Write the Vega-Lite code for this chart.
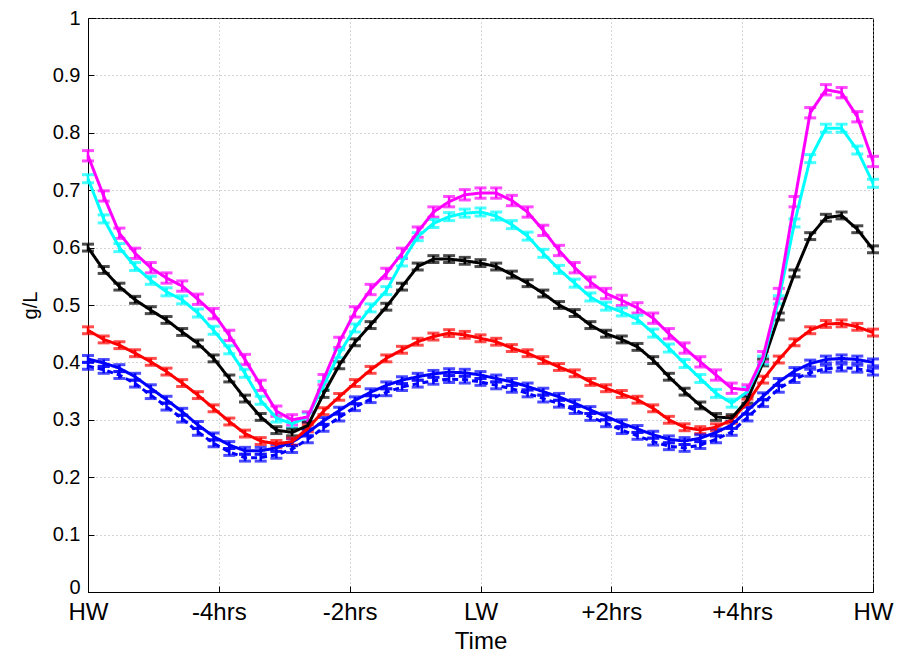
{
"$schema": "https://vega.github.io/schema/vega-lite/v6.json",
"width": 785, "height": 574,
"autosize": {"type": "none"},
"padding": {"left": 88, "top": 18, "right": 24, "bottom": 64},
"background": "white",
"config": {"view": {"stroke": "#000", "strokeWidth": 1}, "font": "Liberation Sans"},
"datasets": {"err": [{"s":"M","e":0.009},{"s":"C","e":0.007},{"s":"K","e":0.006},{"s":"R","e":0.006},{"s":"B1","e":0.006},{"s":"B2","e":0.006}]},
"data": {"values": [
{"t":-6,"M":0.76,"C":0.72,"K":0.60,"R":0.456,"B1":0.406,"B2":0.394},
{"t":-5.76,"M":0.69,"C":0.65,"K":0.561,"R":0.44,"B1":0.399,"B2":0.387},
{"t":-5.52,"M":0.625,"C":0.60,"K":0.532,"R":0.43,"B1":0.39,"B2":0.378},
{"t":-5.28,"M":0.59,"C":0.567,"K":0.509,"R":0.416,"B1":0.375,"B2":0.363},
{"t":-5.04,"M":0.565,"C":0.543,"K":0.491,"R":0.401,"B1":0.355,"B2":0.343},
{"t":-4.8,"M":0.547,"C":0.523,"K":0.474,"R":0.384,"B1":0.335,"B2":0.323},
{"t":-4.56,"M":0.533,"C":0.509,"K":0.453,"R":0.364,"B1":0.314,"B2":0.302},
{"t":-4.32,"M":0.51,"C":0.486,"K":0.433,"R":0.343,"B1":0.291,"B2":0.279},
{"t":-4.08,"M":0.485,"C":0.456,"K":0.407,"R":0.32,"B1":0.271,"B2":0.259},
{"t":-3.84,"M":0.447,"C":0.422,"K":0.372,"R":0.297,"B1":0.256,"B2":0.244},
{"t":-3.6,"M":0.405,"C":0.381,"K":0.337,"R":0.276,"B1":0.246,"B2":0.234},
{"t":-3.36,"M":0.36,"C":0.334,"K":0.305,"R":0.263,"B1":0.246,"B2":0.234},
{"t":-3.12,"M":0.315,"C":0.303,"K":0.282,"R":0.258,"B1":0.251,"B2":0.239},
{"t":-2.88,"M":0.30,"C":0.293,"K":0.278,"R":0.262,"B1":0.261,"B2":0.249},
{"t":-2.64,"M":0.305,"C":0.305,"K":0.29,"R":0.285,"B1":0.278,"B2":0.266},
{"t":-2.4,"M":0.37,"C":0.36,"K":0.345,"R":0.315,"B1":0.298,"B2":0.286},
{"t":-2.16,"M":0.435,"C":0.415,"K":0.395,"R":0.34,"B1":0.316,"B2":0.304},
{"t":-1.92,"M":0.488,"C":0.46,"K":0.435,"R":0.364,"B1":0.334,"B2":0.322},
{"t":-1.68,"M":0.527,"C":0.495,"K":0.465,"R":0.387,"B1":0.348,"B2":0.336},
{"t":-1.44,"M":0.555,"C":0.525,"K":0.497,"R":0.407,"B1":0.36,"B2":0.348},
{"t":-1.2,"M":0.59,"C":0.575,"K":0.532,"R":0.422,"B1":0.369,"B2":0.357},
{"t":-0.96,"M":0.627,"C":0.619,"K":0.567,"R":0.436,"B1":0.375,"B2":0.363},
{"t":-0.72,"M":0.662,"C":0.642,"K":0.58,"R":0.445,"B1":0.38,"B2":0.368},
{"t":-0.48,"M":0.68,"C":0.654,"K":0.58,"R":0.451,"B1":0.383,"B2":0.371},
{"t":-0.24,"M":0.692,"C":0.66,"K":0.577,"R":0.448,"B1":0.382,"B2":0.37},
{"t":0,"M":0.695,"C":0.662,"K":0.573,"R":0.442,"B1":0.378,"B2":0.366},
{"t":0.24,"M":0.695,"C":0.655,"K":0.567,"R":0.436,"B1":0.372,"B2":0.36},
{"t":0.48,"M":0.682,"C":0.64,"K":0.553,"R":0.425,"B1":0.366,"B2":0.354},
{"t":0.72,"M":0.662,"C":0.62,"K":0.538,"R":0.416,"B1":0.358,"B2":0.346},
{"t":0.96,"M":0.63,"C":0.59,"K":0.52,"R":0.404,"B1":0.349,"B2":0.337},
{"t":1.2,"M":0.595,"C":0.562,"K":0.50,"R":0.392,"B1":0.34,"B2":0.328},
{"t":1.44,"M":0.565,"C":0.538,"K":0.486,"R":0.381,"B1":0.329,"B2":0.317},
{"t":1.68,"M":0.54,"C":0.514,"K":0.465,"R":0.366,"B1":0.317,"B2":0.305},
{"t":1.92,"M":0.52,"C":0.498,"K":0.45,"R":0.355,"B1":0.306,"B2":0.294},
{"t":2.16,"M":0.508,"C":0.488,"K":0.44,"R":0.345,"B1":0.294,"B2":0.282},
{"t":2.4,"M":0.495,"C":0.475,"K":0.427,"R":0.335,"B1":0.284,"B2":0.272},
{"t":2.64,"M":0.477,"C":0.451,"K":0.404,"R":0.32,"B1":0.274,"B2":0.262},
{"t":2.88,"M":0.45,"C":0.425,"K":0.375,"R":0.30,"B1":0.266,"B2":0.254},
{"t":3.12,"M":0.425,"C":0.398,"K":0.349,"R":0.287,"B1":0.263,"B2":0.251},
{"t":3.36,"M":0.401,"C":0.372,"K":0.325,"R":0.282,"B1":0.268,"B2":0.256},
{"t":3.6,"M":0.378,"C":0.346,"K":0.305,"R":0.287,"B1":0.278,"B2":0.266},
{"t":3.84,"M":0.355,"C":0.329,"K":0.303,"R":0.30,"B1":0.291,"B2":0.279},
{"t":4.08,"M":0.352,"C":0.349,"K":0.335,"R":0.33,"B1":0.316,"B2":0.304},
{"t":4.32,"M":0.41,"C":0.404,"K":0.40,"R":0.37,"B1":0.341,"B2":0.329},
{"t":4.56,"M":0.52,"C":0.509,"K":0.48,"R":0.405,"B1":0.366,"B2":0.354},
{"t":4.8,"M":0.68,"C":0.643,"K":0.555,"R":0.435,"B1":0.385,"B2":0.371},
{"t":5.04,"M":0.835,"C":0.755,"K":0.62,"R":0.456,"B1":0.398,"B2":0.382},
{"t":5.28,"M":0.875,"C":0.808,"K":0.652,"R":0.467,"B1":0.405,"B2":0.389},
{"t":5.52,"M":0.87,"C":0.808,"K":0.656,"R":0.468,"B1":0.407,"B2":0.391},
{"t":5.76,"M":0.828,"C":0.77,"K":0.632,"R":0.462,"B1":0.405,"B2":0.389},
{"t":6,"M":0.75,"C":0.712,"K":0.597,"R":0.452,"B1":0.40,"B2":0.384}
]},
"transform": [
  {"fold": ["B2","B1","R","K","C","M"], "as": ["s","v"]},
  {"lookup": "s", "from": {"data": {"name": "err"}, "key": "s", "fields": ["e"]}}
],
"encoding": {
  "x": {"field": "t", "type": "quantitative",
    "scale": {"domain": [-6, 6], "nice": false, "zero": false},
    "axis": {"values": [-6,-4,-2,0,2,4,6], "labelFlush": false,
      "labelExpr": "datum.value == 0 ? 'LW' : (abs(datum.value) == 6 ? 'HW' : (datum.value > 0 ? '+' : '') + datum.value + 'hrs')",
      "grid": true, "gridDash": [1,3], "gridColor": "#aaaaaa", "gridWidth": 1,
      "domainColor": "#000", "tickColor": "#000", "tickSize": -6, "labelPadding": 14,
      "labelFontSize": 24, "labelColor": "#000", "labelFont": "Liberation Sans",
      "title": "Time", "titleFontSize": 24, "titleFontWeight": "normal", "titleColor": "#000", "titleFont": "Liberation Sans", "titlePadding": 5}},
  "y": {"field": "v", "type": "quantitative",
    "scale": {"domain": [0, 1], "nice": false},
    "axis": {"values": [0,0.1,0.2,0.3,0.4,0.5,0.6,0.7,0.8,0.9,1], "format": ".1~f", "labelFlush": false,
      "labelOffset": {"condition": {"test": "datum.value == 0", "value": -5}, "value": 0},
      "grid": true, "gridDash": [1,3], "gridColor": "#aaaaaa", "gridWidth": 1,
      "domainColor": "#000", "tickColor": "#000", "tickSize": -6, "labelPadding": 14,
      "labelFontSize": 20, "labelColor": "#000", "labelFont": "Liberation Sans",
      "title": "g/L", "titleFontSize": 20, "titleFontWeight": "normal", "titleColor": "#000", "titleFont": "Liberation Sans", "titlePadding": 12}},
  "color": {"field": "s", "type": "nominal",
    "scale": {"domain": ["M","C","K","R","B1","B2"], "range": ["#ff00ff","#00ffff","#000000","#ff0000","#0000ff","#0000ff"]},
    "legend": null}
},
"layer": [
  {"mark": {"type": "errorbar", "thickness": 2.5, "ticks": {"size": 12, "thickness": 3}},
   "encoding": {"yError": {"field": "e"}}},
  {"mark": {"type": "line", "strokeWidth": 3},
   "encoding": {"strokeDash": {"field": "s", "type": "nominal",
     "scale": {"domain": ["M","C","K","R","B1","B2"], "range": [[1,0],[1,0],[1,0],[1,0],[1,0],[6,4]]}, "legend": null}}}
]
}
